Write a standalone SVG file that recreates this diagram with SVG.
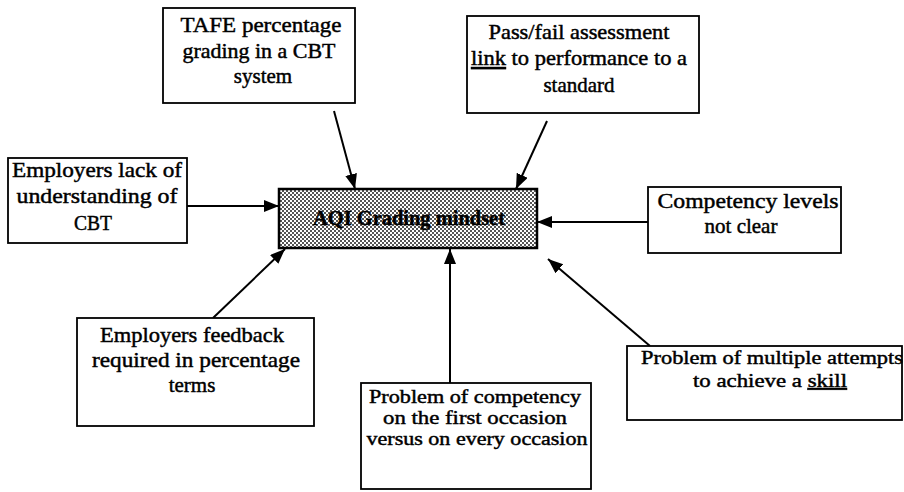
<svg xmlns="http://www.w3.org/2000/svg" width="904" height="492" viewBox="0 0 904 492">
<style>
.box{fill:#fff;stroke:#000;stroke-width:1.8}
.c{fill:none;stroke:#000;stroke-width:2;marker-end:url(#ah)}
.u{text-decoration:underline}
text{font-family:"Liberation Serif","Times New Roman",serif;font-size:21px;text-anchor:middle;fill:#000;stroke:#000;stroke-width:0.45}
.s{font-size:18.5px}
</style>
<defs>
<marker id="ah" markerUnits="userSpaceOnUse" markerWidth="16" markerHeight="14" refX="15" refY="6" orient="auto">
<path d="M0,0 L15,6 L0,12 Z" fill="#000"/>
</marker>
<pattern id="dots" width="4" height="4" patternUnits="userSpaceOnUse">
<rect width="4" height="4" fill="#fff"/>
<rect x="0" y="0" width="2" height="2" fill="#555"/>
<rect x="2" y="2" width="2" height="2" fill="#555"/>
</pattern>
</defs>
<g id="connectors">
<line class="c" x1="334" y1="111" x2="355" y2="189"/>
<line class="c" x1="547" y1="121" x2="516" y2="189"/>
<line class="c" x1="187" y1="206" x2="279" y2="206"/>
<line class="c" x1="648" y1="222" x2="537" y2="222"/>
<line class="c" x1="213" y1="318" x2="285" y2="249"/>
<line class="c" x1="450" y1="383" x2="450" y2="249"/>
<line class="c" x1="650" y1="346" x2="548" y2="259"/>
</g>
<g id="center">
<rect x="279" y="189" width="258" height="59" fill="url(#dots)" stroke="#000" stroke-width="2.5"/>
<text x="409" y="225" font-size="20" font-weight="bold" stroke-width="0" textLength="192" lengthAdjust="spacingAndGlyphs">AQI Grading mindset</text>
</g>
<g id="tafe">
<rect class="box" x="163" y="8" width="192" height="95"/>
<text x="261" y="32" textLength="161" lengthAdjust="spacingAndGlyphs">TAFE percentage</text>
<text x="259" y="58" textLength="153" lengthAdjust="spacingAndGlyphs">grading in a CBT</text>
<text x="263" y="83">system</text>
</g>
<g id="passfail">
<rect class="box" x="467" y="16" width="232" height="97"/>
<text x="579" y="39" textLength="181" lengthAdjust="spacingAndGlyphs">Pass/fail assessment</text>
<text x="579" y="65" textLength="216" lengthAdjust="spacingAndGlyphs"><tspan class="u">link</tspan> to performance to a</text>
<text x="579" y="92">standard</text>
</g>
<g id="employers-lack">
<rect class="box" x="8" y="158" width="179" height="85"/>
<text x="97" y="177" textLength="170" lengthAdjust="spacingAndGlyphs">Employers lack of</text>
<text x="97" y="203" textLength="161" lengthAdjust="spacingAndGlyphs">understanding of</text>
<text x="93" y="230" textLength="38" lengthAdjust="spacingAndGlyphs">CBT</text>
</g>
<g id="competency-levels">
<rect class="box" x="648" y="187" width="193" height="66"/>
<text x="748" y="208" textLength="181" lengthAdjust="spacingAndGlyphs">Competency levels</text>
<text x="741" y="233">not clear</text>
</g>
<g id="employers-feedback">
<rect class="box" x="77" y="318" width="237" height="108"/>
<text x="192" y="342" textLength="184" lengthAdjust="spacingAndGlyphs">Employers feedback</text>
<text x="196" y="367" textLength="208" lengthAdjust="spacingAndGlyphs">required in percentage</text>
<text x="192" y="392">terms</text>
</g>
<g id="competency-occasion">
<rect class="box" x="361" y="383" width="230" height="106"/>
<text class="s" x="475" y="403" textLength="212" lengthAdjust="spacingAndGlyphs">Problem of competency</text>
<text class="s" x="475" y="424" textLength="184" lengthAdjust="spacingAndGlyphs">on the first occasion</text>
<text class="s" x="477" y="445" textLength="221" lengthAdjust="spacingAndGlyphs">versus on every occasion</text>
</g>
<g id="multiple-attempts">
<rect class="box" x="627" y="346" width="275" height="74"/>
<text class="s" x="772" y="364" textLength="262" lengthAdjust="spacingAndGlyphs">Problem of multiple attempts</text>
<text class="s" x="770" y="387" textLength="154" lengthAdjust="spacingAndGlyphs">to achieve a <tspan class="u">skill</tspan></text>
</g>
</svg>
